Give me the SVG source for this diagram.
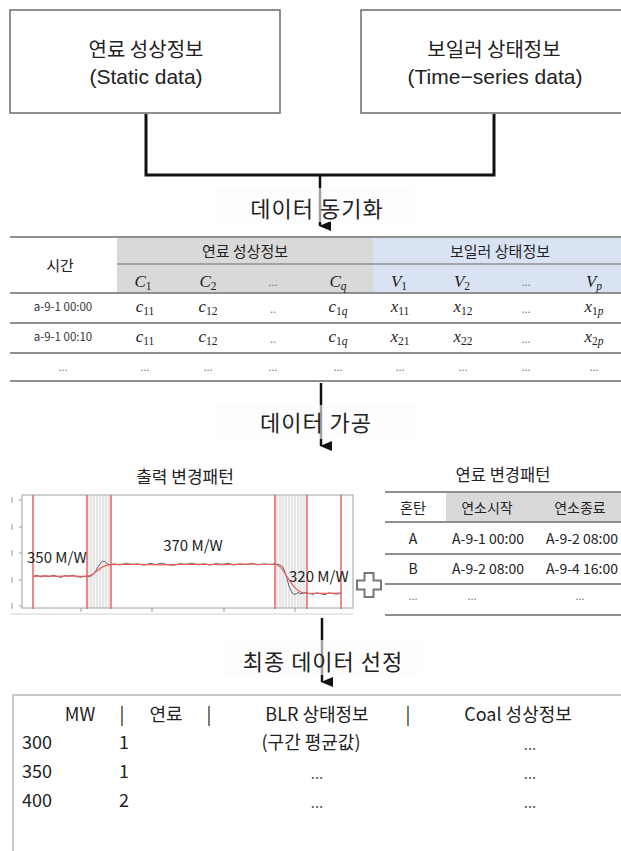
<svg xmlns="http://www.w3.org/2000/svg" width="621" height="851" viewBox="0 0 621 851">
<style>
.box{fill:#fff;stroke:#6b6b6b;stroke-width:1.5}
.kr{font-family:"Noto Sans CJK KR","Noto Sans",sans-serif;fill:#222}
.lat{font-family:"Liberation Sans","Noto Sans CJK KR",sans-serif;fill:#222}
.mid{text-anchor:middle}
.conn{fill:none;stroke:#111;stroke-width:3}
.arr{fill:none;stroke:#111;stroke-width:2.5}
.lblbg{fill:#fbfbfb;fill-opacity:0.62}
.tl{stroke:#8f8f8f;stroke-width:2}
.tl1{stroke:#8f8f8f;stroke-width:1.5}
.m{font-family:"Liberation Serif","DejaVu Serif",serif;font-style:italic;font-size:17px;fill:#222;text-anchor:middle}
.sub{font-size:11.5px;font-style:normal}
.subi{font-size:11.5px;font-style:italic}
.dots{font-family:"Noto Sans CJK KR",sans-serif;font-size:11px;fill:#777;text-anchor:middle}
.tm{font-family:"Noto Sans CJK KR",sans-serif;font-size:11.5px;fill:#333;text-anchor:middle}
.red{stroke:#ee6b6b;stroke-width:1.6}
.ft{font-family:"Noto Sans CJK KR",sans-serif;font-size:18px;fill:#222}
.fd{font-family:"Noto Sans CJK KR",sans-serif;font-size:15px;fill:#555;text-anchor:middle}
</style>
<defs>
<marker id="ah" markerWidth="10" markerHeight="12" refX="5" refY="11" orient="auto-start-reverse" markerUnits="userSpaceOnUse" viewBox="0 0 10 12">
<path d="M0,0 L10,0 L5,12 Z" fill="#111"/>
</marker>
<pattern id="hatch" width="3" height="10" patternUnits="userSpaceOnUse">
<rect width="3" height="10" fill="#f6f6f6"/>
<line x1="1" y1="0" x2="1" y2="10" stroke="#cdcdcd" stroke-width="0.8"/>
</pattern>
</defs>

<g id="node-static">
<rect class="box" x="10" y="10" width="270" height="103"/>
<text class="kr mid" x="146" y="57" font-size="20">연료 성상정보</text>
<text class="lat mid" x="146" y="84" font-size="21">(Static data)</text>
</g>

<g id="node-timeseries">
<rect class="box" x="361" y="10" width="270" height="103"/>
<text class="kr mid" x="494" y="57" font-size="20">보일러 상태정보</text>
<text class="lat mid" x="495" y="84" font-size="21">(Time−series data)</text>
</g>

<g id="connectors">
<path class="conn" d="M146,114 V175 H494 V114"/>
<path class="arr" d="M320,174 V226" marker-end="url(#ah)"/>
<path class="arr" d="M321,383 V446" marker-end="url(#ah)"/>
<path class="arr" d="M322,618 V682" marker-end="url(#ah)"/>
</g>

<g id="label-sync">
<rect class="lblbg" x="214" y="188" width="200" height="34"/>
<text class="kr mid" x="317" y="217" font-size="22" letter-spacing="1">데이터 동기화</text>
</g>

<g id="node-sync-table">
<rect x="117" y="238" width="256" height="55" fill="#d9d9d9"/>
<rect x="373" y="238" width="248" height="55" fill="#dae3f3"/>
<line class="tl" x1="10" y1="237" x2="621" y2="237"/>
<line class="tl1" x1="117" y1="264" x2="621" y2="264"/>
<line class="tl" x1="10" y1="293" x2="621" y2="293"/>
<line class="tl" x1="10" y1="323" x2="621" y2="323"/>
<line class="tl" x1="10" y1="353" x2="621" y2="353"/>
<line class="tl" x1="10" y1="381" x2="621" y2="381"/>
<text class="kr mid" x="60" y="271" font-size="15">시간</text>
<text class="kr mid" x="245" y="257" font-size="15">연료 성상정보</text>
<text class="kr mid" x="500" y="257" font-size="15">보일러 상태정보</text>
<text class="m" x="143" y="287">C<tspan class="sub" dy="3">1</tspan></text>
<text class="m" x="208" y="287">C<tspan class="sub" dy="3">2</tspan></text>
<text class="dots" x="273" y="286">...</text>
<text class="m" x="338" y="287">C<tspan class="subi" dy="3">q</tspan></text>
<text class="m" x="399" y="287">V<tspan class="sub" dy="3">1</tspan></text>
<text class="m" x="462" y="287">V<tspan class="sub" dy="3">2</tspan></text>
<text class="dots" x="526" y="286">...</text>
<text class="m" x="594" y="287">V<tspan class="subi" dy="3">p</tspan></text>

<text class="tm" x="63" y="311">a-9-1 00:00</text>
<text class="m" x="145" y="312">c<tspan class="sub" dy="3">11</tspan></text>
<text class="m" x="208" y="312">c<tspan class="sub" dy="3">12</tspan></text>
<text class="dots" x="273" y="313">..</text>
<text class="m" x="338" y="312">c<tspan class="sub" dy="3">1</tspan><tspan class="subi">q</tspan></text>
<text class="m" x="400" y="312">x<tspan class="sub" dy="3">11</tspan></text>
<text class="m" x="463" y="312">x<tspan class="sub" dy="3">12</tspan></text>
<text class="dots" x="526" y="313">...</text>
<text class="m" x="594" y="312">x<tspan class="sub" dy="3">1</tspan><tspan class="subi">p</tspan></text>

<text class="tm" x="63" y="341">a-9-1 00:10</text>
<text class="m" x="145" y="342">c<tspan class="sub" dy="3">11</tspan></text>
<text class="m" x="208" y="342">c<tspan class="sub" dy="3">12</tspan></text>
<text class="dots" x="273" y="343">..</text>
<text class="m" x="338" y="342">c<tspan class="sub" dy="3">1</tspan><tspan class="subi">q</tspan></text>
<text class="m" x="400" y="342">x<tspan class="sub" dy="3">21</tspan></text>
<text class="m" x="463" y="342">x<tspan class="sub" dy="3">22</tspan></text>
<text class="dots" x="526" y="343">...</text>
<text class="m" x="594" y="342">x<tspan class="sub" dy="3">2</tspan><tspan class="subi">p</tspan></text>

<text class="dots" x="63" y="371">...</text>
<text class="dots" x="145" y="371">...</text>
<text class="dots" x="208" y="371">...</text>
<text class="dots" x="273" y="371">...</text>
<text class="dots" x="338" y="371">...</text>
<text class="dots" x="400" y="371">...</text>
<text class="dots" x="463" y="371">...</text>
<text class="dots" x="526" y="371">...</text>
<text class="dots" x="594" y="371">...</text>
</g>

<g id="label-process">
<rect class="lblbg" x="216" y="405" width="200" height="34"/>
<text class="kr mid" x="316" y="431" font-size="22" letter-spacing="1">데이터 가공</text>
</g>

<g id="node-output-chart">
<text class="kr mid" x="185" y="483" font-size="17">출력 변경패턴</text>
<rect x="87" y="496" width="24" height="112" fill="url(#hatch)"/>
<rect x="275" y="496" width="32" height="112" fill="url(#hatch)"/>
<rect x="22" y="495" width="331" height="113" fill="none" stroke="#a0a0a0" stroke-width="1"/>
<g stroke="#9a9a9a" stroke-width="1">
<line x1="19" y1="500" x2="22" y2="500"/><line x1="19" y1="527" x2="22" y2="527"/><line x1="19" y1="553" x2="22" y2="553"/><line x1="19" y1="580" x2="22" y2="580"/><line x1="19" y1="606" x2="22" y2="606"/>
<line x1="12" y1="497" x2="12" y2="503"/><line x1="12" y1="524" x2="12" y2="530"/><line x1="12" y1="550" x2="12" y2="556"/><line x1="12" y1="577" x2="12" y2="583"/><line x1="12" y1="603" x2="12" y2="609"/>
<line x1="10" y1="614" x2="353" y2="614" stroke="#d0d0d0"/>
<line x1="81" y1="608" x2="81" y2="612"/><line x1="152" y1="608" x2="152" y2="612"/><line x1="224" y1="608" x2="224" y2="612"/><line x1="295" y1="608" x2="295" y2="612"/>
</g>
<g class="red">
<line x1="33" y1="495" x2="33" y2="609"/>
<line x1="87" y1="495" x2="87" y2="609"/>
<line x1="111" y1="495" x2="111" y2="609"/>
<line x1="275" y1="495" x2="275" y2="609"/>
<line x1="307" y1="495" x2="307" y2="609"/>
<line x1="341" y1="495" x2="341" y2="609"/>
</g>
<path fill="none" stroke="#6a6a6a" stroke-width="1" d="M33,576.5 L37,575.2 L41,577 L45,575.8 L49,576.9 L53,575 L57,576.3 L61,577.4 L65,575.6 L69,576.2 L73,575.1 L77,576.8 L81,577.2 L85,576.4 L89,576.8 L92,575.5 L95,572 L98,567 L101,562.5 L104,561 L107,563.5 L110,565 L114,563.8 L120,565 L126,563.3 L132,564.7 L138,563.9 L144,565.2 L150,563.5 L156,564.4 L162,563.1 L168,564.8 L174,565.3 L180,563.7 L186,564.5 L192,563.2 L198,564.9 L204,563.8 L210,565.1 L216,563.6 L222,564.3 L228,563.4 L234,565 L240,563.9 L246,564.6 L252,563.5 L258,564.8 L264,563.9 L270,564.4 L275,563.8 L279,564.6 L283,567 L286,575 L289,586 L292,593 L295,594.5 L298,592.5 L301,593.8 L305,592.6 L309,593.5 L313,594.4 L317,592.8 L321,593.9 L325,594.6 L329,592.9 L333,593.6 L337,594.2 L341,593.1"/>
<path fill="none" stroke="#e85a5a" stroke-width="1.2" d="M33,576.3 L45,575.8 L57,576.4 L69,575.9 L81,576.3 L88,576 C95,576 99,565 110,564.6 L130,564.2 L160,564.8 L190,564.1 L220,564.7 L250,564.2 L275,564.5 C285,564.5 290,592 305,593 L320,593.3 L341,593"/>
<text class="kr" x="27" y="563" font-size="15">350 M/W</text>
<text class="kr mid" x="193" y="551" font-size="15">370 M/W</text>
<text class="kr" x="289" y="582" font-size="15">320 M/W</text>
</g>

<g id="node-plus">
<polygon points="364.5,573 373.5,573 373.5,580.5 381,580.5 381,589.5 373.5,589.5 373.5,597 364.5,597 364.5,589.5 357,589.5 357,580.5 364.5,580.5" fill="#fff" stroke="#777" stroke-width="2"/>
</g>

<g id="node-fuel-table">
<text class="kr mid" x="503" y="481" font-size="16.5">연료 변경패턴</text>
<rect x="446" y="493" width="175" height="29" fill="#d9d9d9"/>
<line class="tl" x1="385" y1="492" x2="621" y2="492"/>
<line class="tl" x1="385" y1="522" x2="621" y2="522"/>
<line class="tl" x1="385" y1="554" x2="621" y2="554"/>
<line class="tl" x1="385" y1="584" x2="621" y2="584"/>
<line class="tl" x1="385" y1="615" x2="621" y2="615"/>
<text class="kr mid" x="413" y="513" font-size="14">혼탄</text>
<text class="kr mid" x="487" y="513" font-size="14">연소시작</text>
<text class="kr mid" x="580" y="513" font-size="14">연소종료</text>
<text class="kr mid" x="413" y="544" font-size="14">A</text>
<text class="kr mid" x="488" y="544" font-size="14">A-9-1 00:00</text>
<text class="kr mid" x="582" y="544" font-size="14">A-9-2 08:00</text>
<text class="kr mid" x="413" y="574" font-size="14">B</text>
<text class="kr mid" x="488" y="574" font-size="14">A-9-2 08:00</text>
<text class="kr mid" x="582" y="574" font-size="14">A-9-4 16:00</text>
<text class="dots" x="413" y="600">...</text>
<text class="dots" x="472" y="600">...</text>
<text class="dots" x="580" y="600">...</text>
</g>

<g id="label-select">
<rect class="lblbg" x="222" y="640" width="200" height="35"/>
<text class="kr mid" x="323" y="670" font-size="22" letter-spacing="1">최종 데이터 선정</text>
</g>

<g id="node-final">
<rect x="13" y="695" width="620" height="170" fill="none" stroke="#c8c8c8" stroke-width="2"/>
<text class="ft mid" x="80" y="721">MW</text>
<text class="ft mid" x="122" y="721">|</text>
<text class="ft mid" x="166" y="721">연료</text>
<text class="ft mid" x="209" y="721">|</text>
<text class="ft mid" x="317" y="721">BLR 상태정보</text>
<text class="ft mid" x="408" y="721">|</text>
<text class="ft mid" x="518" y="721">Coal 성상정보</text>
<text class="ft" x="22" y="749">300</text>
<text class="ft mid" x="124" y="749">1</text>
<text class="ft mid" x="311" y="749">(구간 평균값)</text>
<text class="fd" x="530" y="750">...</text>
<text class="ft" x="22" y="778">350</text>
<text class="ft mid" x="124" y="778">1</text>
<text class="fd" x="317" y="779">...</text>
<text class="fd" x="530" y="779">...</text>
<text class="ft" x="22" y="807">400</text>
<text class="ft mid" x="124" y="807">2</text>
<text class="fd" x="317" y="808">...</text>
<text class="fd" x="530" y="808">...</text>
</g>
</svg>
